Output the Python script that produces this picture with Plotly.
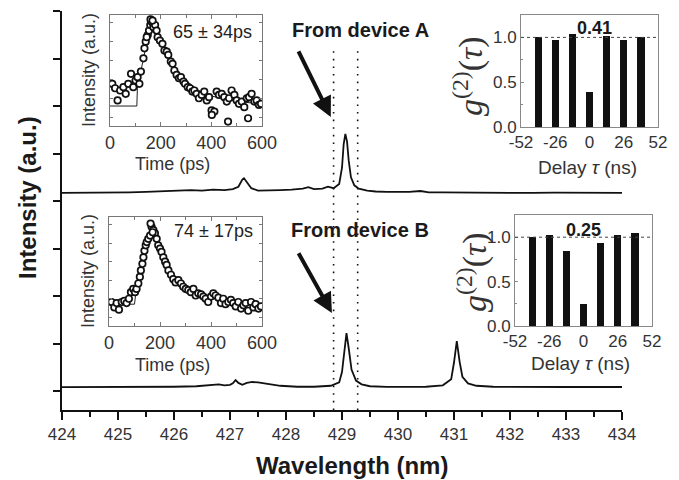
import plotly.graph_objects as go

# ---------------- data ----------------
wl_A = [424.0, 424.4, 424.8, 425.2, 425.5, 425.8, 426.1, 426.3, 426.5, 426.7, 426.9,
        427.05, 427.15, 427.22, 427.25, 427.3, 427.38, 427.5, 427.7, 427.9, 428.1,
        428.3, 428.4, 428.5, 428.65, 428.75, 428.85, 428.95, 429.0, 429.03, 429.06,
        429.09, 429.12, 429.16, 429.22, 429.3, 429.45, 429.6, 429.8, 430.0, 430.2,
        430.4, 430.55, 430.8, 431.2, 431.6, 432.0, 432.4, 432.8, 433.2, 433.6, 434.0]
int_A = [4.17, 4.17, 4.175, 4.18, 4.19, 4.20, 4.21, 4.23, 4.22, 4.24, 4.23,
         4.25, 4.30, 4.45, 4.48, 4.40, 4.27, 4.22, 4.22, 4.23, 4.24,
         4.26, 4.29, 4.25, 4.26, 4.30, 4.27, 4.36, 4.70, 5.20, 5.41,
         5.25, 4.85, 4.50, 4.33, 4.26, 4.22, 4.20, 4.19, 4.19, 4.19,
         4.21, 4.18, 4.18, 4.175, 4.17, 4.175, 4.17, 4.175, 4.17, 4.175, 4.17]

wl_B = [424.0, 424.5, 425.0, 425.5, 426.0, 426.4, 426.7, 426.8, 426.9, 427.0, 427.05,
        427.1, 427.15, 427.22, 427.3, 427.4, 427.5, 427.7, 427.9, 428.2, 428.5, 428.8,
        428.95, 429.0, 429.04, 429.08, 429.12, 429.17, 429.25, 429.35, 429.5, 429.8,
        430.2, 430.5, 430.8, 430.95, 431.0, 431.05, 431.1, 431.15, 431.25, 431.4,
        431.7, 432.0, 432.5, 433.0, 433.5, 434.0]
int_B = [0.08, 0.08, 0.082, 0.084, 0.09, 0.10, 0.12, 0.14, 0.12, 0.13, 0.16,
         0.23, 0.17, 0.13, 0.17, 0.19, 0.18, 0.14, 0.11, 0.09, 0.09, 0.11,
         0.18, 0.40, 0.85, 1.22, 0.90, 0.45, 0.22, 0.14, 0.10, 0.085,
         0.085, 0.09, 0.12, 0.25, 0.60, 1.05, 0.62, 0.30, 0.16, 0.11,
         0.09, 0.085, 0.084, 0.084, 0.084, 0.084]

t_A = [9, 20, 30, 40, 53, 62, 72, 83, 92, 101, 109, 116, 122, 132, 136, 141, 149, 154,
       159, 164, 171, 178, 184, 188, 197, 207, 215, 224, 230, 240, 247, 254, 263, 272,
       280, 290, 296, 307, 316, 325, 333, 342, 351, 362, 372, 382, 391, 401, 412, 421,
       430, 441, 451, 461, 470, 480, 491, 500, 509, 520, 530, 540, 549, 559, 570, 579,
       588, 596, 402, 466, 545, 160, 168, 145]
I_A = [0.38, 0.34, 0.23, 0.32, 0.35, 0.29, 0.38, 0.47, 0.35, 0.41, 0.44, 0.38, 0.49,
       0.61, 0.70, 0.76, 0.82, 0.86, 0.91, 0.94, 0.89, 0.91, 0.86, 0.80, 0.77, 0.74,
       0.68, 0.67, 0.64, 0.58, 0.56, 0.50, 0.46, 0.43, 0.44, 0.40, 0.38, 0.35, 0.34,
       0.31, 0.32, 0.29, 0.25, 0.28, 0.31, 0.23, 0.26, 0.14, 0.13, 0.31, 0.28, 0.29,
       0.26, 0.22, 0.25, 0.32, 0.28, 0.23, 0.20, 0.22, 0.17, 0.25, 0.26, 0.29, 0.22,
       0.23, 0.19, 0.20, 0.10, 0.04, 0.07, 0.96, 0.95, 0.80]
fit_tA = [0, 106, 108, 130, 160, 200, 250, 300, 350, 400, 500, 600]
fit_IA = [0.18, 0.18, 0.34, 0.60, 0.92, 0.75, 0.55, 0.41, 0.32, 0.27, 0.22, 0.20]

t_B = [10, 21, 30, 39, 50, 60, 69, 78, 86, 95, 102, 108, 115, 121, 125, 131, 135, 139,
       144, 148, 154, 161, 167, 174, 180, 187, 193, 200, 206, 213, 220, 226, 233, 243,
       252, 261, 272, 282, 291, 301, 311, 321, 331, 340, 350, 361, 370, 379, 389, 400,
       409, 418, 429, 439, 448, 457, 468, 478, 487, 497, 507, 518, 527, 536, 546, 557,
       566, 575, 586, 596, 163, 171]
I_B = [0.22, 0.17, 0.21, 0.15, 0.22, 0.23, 0.21, 0.25, 0.31, 0.34, 0.31, 0.34, 0.39,
       0.45, 0.51, 0.57, 0.63, 0.69, 0.74, 0.77, 0.80, 0.83, 0.91, 0.88, 0.85, 0.80,
       0.74, 0.71, 0.68, 0.63, 0.59, 0.56, 0.51, 0.47, 0.43, 0.40, 0.42, 0.39, 0.36,
       0.34, 0.33, 0.31, 0.34, 0.28, 0.30, 0.29, 0.27, 0.25, 0.22, 0.27, 0.30, 0.28,
       0.26, 0.21, 0.25, 0.20, 0.22, 0.24, 0.21, 0.18, 0.22, 0.16, 0.19, 0.21, 0.14,
       0.22, 0.17, 0.20, 0.16, 0.18, 0.94, 0.86]
fit_tB = [0, 60, 100, 105, 130, 165, 200, 250, 300, 400, 500, 600]
fit_IB = [0.20, 0.20, 0.20, 0.30, 0.55, 0.88, 0.70, 0.47, 0.35, 0.26, 0.21, 0.19]

delays = [-39, -26, -13, 0, 13, 26, 39]
g2_A = [1.0, 0.97, 1.04, 0.39, 1.02, 0.97, 1.0]
g2_B = [1.0, 1.02, 0.85, 0.25, 0.93, 1.03, 1.05]

wl_ticks = list(range(424, 435))
time_ticks = [0, 200, 400, 600]
delay_ticks = [-52, -26, 0, 26, 52]
delay_ticktext = ["-52", "-26", "0", "26", "52"]
g2_ticks = [0.0, 0.5, 1.0]
g2_ticktext = ["0.0", "0.5", "1.0"]

# ---------------- figure ----------------
W, H = 679, 480
FONT = "Liberation Sans, Arial, sans-serif"
TXT = "#1a1a1a"


def px(x):
    return x / W


def py(y):
    return 1 - y / H


fig = go.Figure()

# main spectra
fig.add_trace(go.Scatter(x=wl_A, y=int_A, mode="lines", line=dict(color="#111", width=1.8),
                         xaxis="x", yaxis="y", showlegend=False))
fig.add_trace(go.Scatter(x=wl_B, y=int_B, mode="lines", line=dict(color="#111", width=1.8),
                         xaxis="x", yaxis="y", showlegend=False))

# inset time traces
marker = dict(symbol="circle", size=6.5, color="white", line=dict(color="#111", width=1.7))
fig.add_trace(go.Scatter(x=fit_tA, y=fit_IA, mode="lines", line=dict(color="#222", width=1),
                         xaxis="x2", yaxis="y2", showlegend=False))
fig.add_trace(go.Scatter(x=t_A, y=I_A, mode="markers", marker=marker,
                         xaxis="x2", yaxis="y2", showlegend=False))
fig.add_trace(go.Scatter(x=fit_tB, y=fit_IB, mode="lines", line=dict(color="#222", width=1),
                         xaxis="x3", yaxis="y3", showlegend=False))
fig.add_trace(go.Scatter(x=t_B, y=I_B, mode="markers", marker=marker,
                         xaxis="x3", yaxis="y3", showlegend=False))

# g2 bars
fig.add_trace(go.Bar(x=delays, y=g2_A, width=5.5, marker=dict(color="#111", line=dict(width=0)),
                     xaxis="x4", yaxis="y4", showlegend=False))
fig.add_trace(go.Bar(x=delays, y=g2_B, width=5.5, marker=dict(color="#111", line=dict(width=0)),
                     xaxis="x5", yaxis="y5", showlegend=False))

tickfont = dict(family=FONT, size=17, color="#333")

main_x = dict(domain=[px(62), px(622)], range=[424, 434], anchor="y", automargin=False,
              showline=True, linecolor="#111", linewidth=1.5, showgrid=False, zeroline=False,
              ticks="outside", ticklen=8, tickwidth=1.5, tickcolor="#111",
              tickvals=wl_ticks, tickfont=tickfont,
              minor=dict(ticks="outside", ticklen=5, tickwidth=1.5, tickcolor="#111",
                         dtick=0.5, tick0=424, showgrid=False))
main_y = dict(domain=[py(410), py(11)], range=[-0.4, 8.0], anchor="x", automargin=False,
              showline=True, linecolor="#111", linewidth=1.5, showgrid=False, zeroline=False,
              ticks="outside", ticklen=7, tickwidth=1.5, tickcolor="#111",
              tickvals=list(range(0, 9)), showticklabels=False)


def inset_x(dom, anchor):
    return dict(domain=dom, range=[0, 600], anchor=anchor, showline=True, mirror="ticks",
                automargin=False,
                linecolor="#777", linewidth=1, showgrid=False, zeroline=False,
                ticks="inside", ticklen=4, tickcolor="#777", tickvals=time_ticks,
                tickfont=dict(family=FONT, size=18, color="#333"),
                minor=dict(ticks="inside", ticklen=3, tickcolor="#777", dtick=100, tick0=0,
                           showgrid=False))


def inset_y(dom, anchor):
    return dict(domain=dom, range=[0, 1], anchor=anchor, showline=True, mirror="ticks",
                automargin=False,
                linecolor="#777", linewidth=1, showgrid=False, zeroline=False,
                ticks="inside", ticklen=3, tickcolor="#777",
                tickvals=[0.08, 0.25, 0.42, 0.59, 0.76, 0.93], showticklabels=False)


def bar_x(dom, anchor):
    return dict(domain=dom, range=[-52, 52], anchor=anchor, showline=True, mirror=True,
                automargin=False,
                linecolor="#888", linewidth=1, showgrid=False, zeroline=False,
                ticks="", tickvals=delay_ticks, ticktext=delay_ticktext,
                tickfont=dict(family=FONT, size=17, color="#333"))


def bar_y(dom, anchor):
    return dict(domain=dom, range=[0, 1.25], anchor=anchor, showline=True, mirror=True,
                automargin=False,
                linecolor="#888", linewidth=1, showgrid=False, zeroline=False,
                ticks="inside", ticklen=3, tickcolor="#888", tickvals=g2_ticks,
                ticktext=g2_ticktext, tickfont=dict(family=FONT, size=17, color="#333"),
                minor=dict(ticks="inside", ticklen=2, tickcolor="#888", dtick=0.25, tick0=0))


fig.update_layout(
    width=W, height=H, margin=dict(l=0, r=0, t=0, b=0, autoexpand=False),
    paper_bgcolor="white", plot_bgcolor="rgba(0,0,0,0)",
    font=dict(family=FONT, color=TXT),
    bargap=0,
    xaxis=main_x, yaxis=main_y,
    xaxis2=inset_x([px(110), px(262)], "y2"), yaxis2=inset_y([py(126), py(15)], "x2"),
    xaxis3=inset_x([px(109), px(262)], "y3"), yaxis3=inset_y([py(326), py(217)], "x3"),
    xaxis4=bar_x([px(521), px(658)], "y4"), yaxis4=bar_y([py(127), py(15)], "x4"),
    xaxis5=bar_x([px(515), px(652)], "y5"), yaxis5=bar_y([py(326), py(215)], "x5"),
)

# white backgrounds behind insets
for (x0, x1, y0, y1) in [(110, 262, 15, 126), (109, 262, 217, 326),
                         (521, 658, 15, 127), (515, 652, 215, 326)]:
    fig.add_shape(type="rect", xref="paper", yref="paper", x0=px(x0), x1=px(x1),
                  y0=py(y1), y1=py(y0), fillcolor="white", line=dict(width=0), layer="below")

# dotted vertical guide lines
for xv in [428.85, 429.28]:
    fig.add_shape(type="line", xref="x", yref="y", x0=xv, x1=xv, y0=-0.4, y1=7.22,
                  line=dict(color="#111", width=1.6, dash="1.6px,6px"))

# dotted line at g2 = 1
for xr, yr in [("x4", "y4"), ("x5", "y5")]:
    fig.add_shape(type="line", xref=xr, yref=yr, x0=-52, x1=52, y0=1.0, y1=1.0,
                  line=dict(color="#444", width=1, dash="dot"))

ann = []


def text(x, y, s, size, bold=False, angle=0, family=FONT, color=TXT, **kw):
    if bold:
        s = "<b>" + s + "</b>"
    ann.append(dict(x=px(x), y=py(y), xref="paper", yref="paper", text=s, showarrow=False,
                    textangle=angle, font=dict(family=family, size=size, color=color),
                    xanchor="center", yanchor="middle", **kw))


text(27, 198, "Intensity (a.u.)", 24, bold=True, angle=-90)
text(352, 465, "Wavelength (nm)", 24, bold=True)
text(360, 30, "From device A", 20, bold=True)
text(360, 230, "From device B", 20, bold=True)

text(89, 70, "Intensity (a.u.)", 18, angle=-90, color="#333")
text(88, 271, "Intensity (a.u.)", 18, angle=-90, color="#333")
text(172, 164, "Time (ps)", 18, color="#333")
text(172, 365, "Time (ps)", 18, color="#333")
text(212, 32, "65 ± 34ps", 18, color="#222")
text(213, 231, "74 ± 17ps", 18, color="#222")

text(587, 167, "Delay <i>τ</i> (ns)", 19, color="#333")
text(580, 363, "Delay <i>τ</i> (ns)", 19, color="#333")
g2_txt = "<i>g</i><sup>(2)</sup>(<i>τ</i>)"
text(468, 76, g2_txt, 34, angle=-90, family="Liberation Serif, DejaVu Serif, serif", color="#333")
text(472, 272, g2_txt, 34, angle=-90, family="Liberation Serif, DejaVu Serif, serif", color="#333")

# g2(0) values
ann.append(dict(x=4, y=1.11, xref="x4", yref="y4", text="<b>0.41</b>", showarrow=False,
                font=dict(family=FONT, size=18, color=TXT)))
ann.append(dict(x=0, y=1.08, xref="x5", yref="y5", text="<b>0.25</b>", showarrow=False,
                font=dict(family=FONT, size=18, color=TXT)))

# arrows
for tip, tail in [((428.80, 5.77), (428.21, 7.18)), ((428.82, 1.64), (428.21, 2.93))]:
    ann.append(dict(x=tip[0], y=tip[1], xref="x", yref="y", ax=tail[0], ay=tail[1],
                    axref="x", ayref="y", text="", showarrow=True, arrowhead=2,
                    arrowsize=1.0, arrowwidth=4, arrowcolor="#111"))

fig.update_layout(annotations=ann)
fig.write_html("out.html", config={"displayModeBar": False},
               post_script="document.documentElement.style.margin='0';"
                           "document.body.style.margin='0';"
                           "document.body.style.padding='0';"
                           "document.body.style.overflow='hidden';")
